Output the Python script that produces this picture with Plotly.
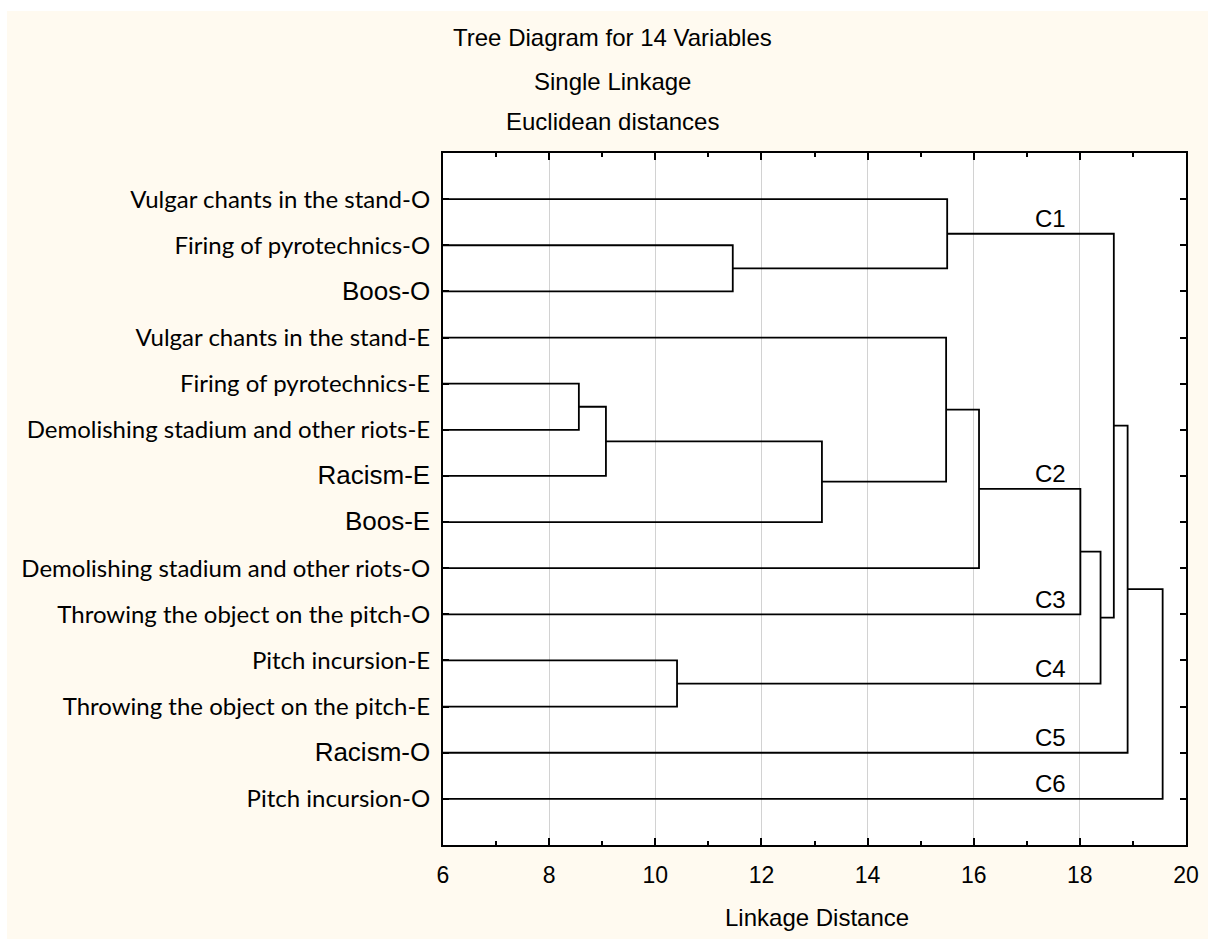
import plotly.graph_objects as go

# ---------------- data ----------------
title_lines = ["Tree Diagram for 14 Variables", "Single Linkage", "Euclidean distances"]
x_title = "Linkage Distance"

leaf_labels = [
    "Vulgar chants in the stand-O",
    "Firing of pyrotechnics-O",
    "Boos-O",
    "Vulgar chants in the stand-E",
    "Firing of pyrotechnics-E",
    "Demolishing stadium and other riots-E",
    "Racism-E",
    "Boos-E",
    "Demolishing stadium and other riots-O",
    "Throwing the object on the pitch-O",
    "Pitch incursion-E",
    "Throwing the object on the pitch-E",
    "Racism-O",
    "Pitch incursion-O",
]
arial_labels = ["Boos-O", "Racism-E", "Boos-E", "Racism-O"]

# merges: node 14 + k joins merge_left[k] and merge_right[k] at merge_dist[k]
merge_left = [1, 0, 4, 16, 17, 3, 19, 20, 10, 21, 15, 24, 25]
merge_right = [2, 14, 5, 6, 7, 18, 8, 9, 11, 22, 23, 12, 13]
merge_dist = [11.46, 15.50, 8.56, 9.07, 13.14, 15.48, 16.10, 18.01, 10.41, 18.39, 18.64, 18.90, 19.56]

cluster_labels = ["C1", "C2", "C3", "C4", "C5", "C6"]
cluster_nodes = [15, 20, 9, 22, 12, 13]

x_tickvals = [6, 8, 10, 12, 14, 16, 18, 20]

# ---------------- build dendrogram geometry from merges ----------------
n = len(leaf_labels)
node_y = {i: i + 1 for i in range(n)}
node_h = {i: 0.0 for i in range(n)}
xs, ys = [], []
for k, (a, b, d) in enumerate(zip(merge_left, merge_right, merge_dist)):
    node = n + k
    ya, yb = node_y[a], node_y[b]
    xs += [node_h[a], d, d, node_h[b], None]
    ys += [ya, ya, yb, yb, None]
    node_y[node] = (ya + yb) / 2
    node_h[node] = d

# ---------------- figure ----------------
W, H = 1208, 939
L, R, T, B = 443, 22, 153, 94
pw, ph = W - L - R, H - T - B

def px_x(p):
    return (p - L) / pw

def px_y(p):
    return (H - B - p) / ph

ARIAL = "Arial, Liberation Sans, sans-serif"

fig = go.Figure()
fig.add_trace(go.Scatter(x=xs, y=ys, mode="lines",
                         line=dict(color="black", width=1.8),
                         hoverinfo="skip", showlegend=False))

ticktext = []
for lab in leaf_labels:
    if lab in arial_labels:
        ticktext.append('<span style="font-family:Arial, Liberation Sans; font-size:26px">%s</span>' % lab)
    else:
        ticktext.append(lab)

annotations = []
for lab, nd in zip(cluster_labels, cluster_nodes):
    annotations.append(dict(x=17.44, y=node_y[nd], xref="x", yref="y", text=lab,
                            showarrow=False, yshift=15, xanchor="center", yanchor="middle",
                            font=dict(family=ARIAL, size=24, color="black")))

title_y_px = [37, 82, 122]
for line, yp in zip(title_lines, title_y_px):
    annotations.append(dict(x=px_x(612), y=px_y(yp), xref="paper", yref="paper", text=line,
                            showarrow=False, xanchor="center", yanchor="middle",
                            font=dict(family=ARIAL, size=24, color="black")))

annotations.append(dict(x=px_x(817), y=px_y(917), xref="paper", yref="paper", text=x_title,
                        showarrow=False, xanchor="center", yanchor="middle",
                        font=dict(family=ARIAL, size=24, color="black")))

shapes = [
    dict(type="rect", xref="paper", yref="paper", x0=px_x(-5), x1=px_x(W + 5),
         y0=px_y(11), y1=px_y(-5), fillcolor="white", line=dict(width=0), layer="above"),
    dict(type="rect", xref="paper", yref="paper", x0=px_x(-5), x1=px_x(7),
         y0=px_y(H + 5), y1=px_y(-5), fillcolor="white", line=dict(width=0), layer="above"),
]

fig.update_layout(
    width=W, height=H, autosize=False,
    margin=dict(l=L, r=R, t=T, b=B, pad=0),
    paper_bgcolor="#FFFAF0", plot_bgcolor="white",
    annotations=annotations, shapes=shapes,
    font=dict(family=ARIAL, color="black"),
)

fig.update_xaxes(
    range=[6, 20], tickvals=x_tickvals, ticks="inside", ticklen=7, tickwidth=1.5,
    tickcolor="black", showline=True, linecolor="black", linewidth=2, mirror="ticks",
    showgrid=True, gridcolor="#d2d2d2", gridwidth=1, zeroline=False,
    tickfont=dict(family=ARIAL, size=23, color="black"),
    ticklabelstandoff=8, automargin=False,
    minor=dict(dtick=1, tick0=6, ticks="inside", ticklen=4, tickcolor="black", showgrid=False),
)
fig.update_yaxes(
    range=[n + 1, 0], tickvals=list(range(1, n + 1)), ticktext=ticktext,
    ticks="inside", ticklen=6, tickwidth=1.5, tickcolor="black",
    showline=True, linecolor="black", linewidth=2, mirror="ticks",
    showgrid=False, zeroline=False,
    tickfont=dict(family="Lato", size=24, color="black"),
    ticklabelstandoff=6, automargin=False,
)

fig.write_html("out.html", config={"displayModeBar": False},
               post_script="document.body.style.margin='0px';")
